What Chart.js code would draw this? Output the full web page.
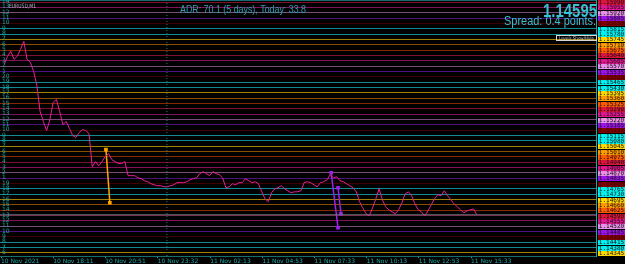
<!DOCTYPE html>
<html>
<head>
<meta charset="utf-8">
<script src="https://cdn.jsdelivr.net/npm/chart.js@4"></script>
<style>
  html, body { margin: 0; padding: 0; background: #000; }
  #chartBox { width: 625px; height: 264px; }
</style>
</head>
<body>
<div id="chartBox"><canvas id="priceChart" width="625" height="264"></canvas></div>
<script>
// Horizontal price levels shown on the right axis (top to bottom)
const levelPrices = [
    1.15990, 1.15955, 1.15920, 1.15885, 1.15850, 1.15815, 1.15780, 1.15745, 1.15710, 1.15675,
    1.15640, 1.15605, 1.15570, 1.15535, 1.15500, 1.15465, 1.15430, 1.15395, 1.15360, 1.15325,
    1.15290, 1.15255, 1.15220, 1.15185, 1.15150, 1.15115, 1.15080, 1.15045, 1.15010, 1.14975,
    1.14940, 1.14905, 1.14870, 1.14835, 1.14800, 1.14765, 1.14730, 1.14695, 1.14660, 1.14625,
    1.14590, 1.14555, 1.14520, 1.14485, 1.14450, 1.14415, 1.14380, 1.14345
];

// small counters printed at the left end of each level
const levelTags = [
    '14', '13', '12', '11', '10', '9', '8', '7', '6', '5', '4', '3', '2', '1',
    '20', '19', '18', '17', '16', '15', '14', '13', '12', '11', '10', '9', '8', '7', '6', '5', '4', '3', '2', '1',
    '19', '18', '17', '16', '15', '14', '13', '12', '11', '10', '9', '8', '7', '6'
];

// time axis (minutes after 10 Nov 15:31)
const timeTicks = [0, 160, 320, 481, 642, 802, 962, 1122, 1282, 1442];
const timeLabels = ['10 Nov 2021', '10 Nov 18:11', '10 Nov 20:51', '10 Nov 23:32', '11 Nov 02:13',
                    '11 Nov 04:53', '11 Nov 07:33', '11 Nov 10:13', '11 Nov 12:53', '11 Nov 15:33'];
const daySeparator = 509;

// EURUSD close, one value every 10 minutes starting at minute 10
const firstBar = 10;
const barStep = 10;
const closePrices = [
    1.15582, 1.15635, 1.15668, 1.15615, 1.15635, 1.15681, 1.15733, 1.15615, 1.15595, 1.15536,
    1.15444, 1.15273, 1.15207, 1.15148, 1.15220, 1.15332, 1.15352, 1.15273, 1.15187, 1.15207,
    1.15161, 1.15115, 1.15102, 1.15135, 1.15154, 1.15148, 1.15128, 1.14911, 1.14944, 1.14917,
    1.14944, 1.14977, 1.14996, 1.14957, 1.14944, 1.14931, 1.14931, 1.14944, 1.14852, 1.14852,
    1.14852, 1.14838, 1.14832, 1.14819, 1.14812, 1.14799, 1.14792, 1.14786, 1.14786, 1.14779,
    1.14779, 1.14786, 1.14792, 1.14806, 1.14806, 1.14806, 1.14812, 1.14825, 1.14832, 1.14838,
    1.14865, 1.14878, 1.14865, 1.14852, 1.14878, 1.14865, 1.14858, 1.14838, 1.14773, 1.14779,
    1.14799, 1.14792, 1.14806, 1.14806, 1.14832, 1.14819, 1.14806, 1.14812, 1.14799, 1.14746,
    1.14700, 1.14681, 1.14740, 1.14766, 1.14773, 1.14786, 1.14766, 1.14753, 1.14740, 1.14746,
    1.14746, 1.14753, 1.14806, 1.14812, 1.14806, 1.14792, 1.14779, 1.14806, 1.14812, 1.14825,
    1.14858, 1.14838, 1.14845, 1.14819, 1.14812, 1.14799, 1.14786, 1.14773, 1.14746, 1.14681,
    1.14641, 1.14602, 1.14589, 1.14641, 1.14700, 1.14766, 1.14694, 1.14648, 1.14628, 1.14615,
    1.14602, 1.14628, 1.14674, 1.14733, 1.14746, 1.14720, 1.14667, 1.14628, 1.14615, 1.14589,
    1.14621, 1.14661, 1.14700, 1.14727, 1.14720, 1.14753, 1.14720, 1.14694, 1.14667, 1.14648,
    1.14628, 1.14608, 1.14621, 1.14628, 1.14634, 1.14595
];

// trade lines (open -> close)
const orangeTimes = [322, 334];
const orangePrices = [1.15023, 1.14674];
const purpleTimes = [1013, 1034];
const purplePrices = [1.14871, 1.14510];
const purple2Times = [1034, 1043];
const purple2Prices = [1.14773, 1.14602];

const bidPrice = 1.14595;
const spreadPoints = 0.4;
const adrValue = 70.1;
const adrDays = 5;
const todayRange = 33.8;

// axis window
const xMin = -3.07, xMax = 1825.5;
const yMin = 1.14325, yMax = 1.16004;

// colours, cycle of 10 starting at the top level
const labelColors = ['#DC143C', '#E0168E', '#E890E8', '#9A12E6', '#800000',
                     '#00F0F0', '#00F0F0', '#FFD700', '#FF9A00', '#FF5A00'];
const lineColors  = ['#7E1030', '#84125A', '#7A4C7A', '#4E1280', '#3E0000',
                     '#128A92', '#128A92', '#9E8400', '#8A4E00', '#862800'];

const closeData = closePrices.map((p, i) => ({ x: firstBar + i * barStep, y: p }));
const pairData = (t, p) => t.map((v, i) => ({ x: v, y: p[i] }));

function fitText(ctx, text, x, y, width) {
    const w = ctx.measureText(text).width;
    ctx.save();
    ctx.translate(x, y);
    ctx.scale(width / w, 1);
    ctx.fillText(text, 0, 0);
    ctx.restore();
}

const overlayPlugin = {
    id: 'mt4Overlay',
    afterDraw(chart) {
        const ctx = chart.ctx;
        const ys = chart.scales.y;
        const area = chart.chartArea;
        ctx.save();

        // frame line along the top
        ctx.fillStyle = '#136A70';
        ctx.fillRect(0, 0, area.right, 1);

        // right axis labels with coloured backgrounds
        ctx.font = '6px "DejaVu Sans Mono"';
        ctx.textAlign = 'center';
        ctx.textBaseline = 'middle';
        levelPrices.forEach((p, i) => {
            const py = Math.round(ys.getPixelForValue(p));
            ctx.fillStyle = labelColors[i % 10];
            ctx.fillRect(area.right + 2, py - 2, chart.width - area.right - 2, 5);
            ctx.fillStyle = i % 10 === 4 ? '#3a0000' : '#101010';
            ctx.fillText(p.toFixed(5), area.right + 15.5, py + 0.5);
        });

        // left tags
        ctx.font = '6px "DejaVu Sans"';
        ctx.textAlign = 'left';
        ctx.fillStyle = '#1FA8A8';
        levelPrices.forEach((p, i) => {
            const py = Math.round(ys.getPixelForValue(p));
            ctx.fillText(levelTags[i], 2, py - 1);
        });

        // symbol caption
        ctx.textBaseline = 'alphabetic';
        ctx.font = '6px "DejaVu Sans"';
        ctx.fillStyle = '#A8B8C8';
        fitText(ctx, 'EURUSD,M1', 9, 8, 27);

        // ADR line
        ctx.font = '10px "Liberation Sans"';
        ctx.fillStyle = '#2AA2B4';
        fitText(ctx, 'ADR: ' + adrValue.toFixed(1) + ' (' + adrDays + ' days), Today: ' + todayRange.toFixed(1),
                180, 13, 126);

        // bid and spread
        ctx.fillStyle = '#3ABFD2';
        ctx.font = 'bold 18px "Liberation Sans"';
        fitText(ctx, bidPrice.toFixed(5), 543, 17, 54);
        ctx.font = '12px "Liberation Sans"';
        fitText(ctx, 'Spread: ' + spreadPoints.toFixed(1) + ' points.', 504, 25, 92);

        // small button box
        ctx.strokeStyle = '#D8D8D8';
        ctx.lineWidth = 1;
        ctx.strokeRect(556.5, 35.5, 40, 5);
        ctx.fillStyle = '#C8C8C8';
        ctx.font = '5px "DejaVu Sans"';
        fitText(ctx, 'Levels Show/Hide', 559, 40, 35);

        ctx.restore();
    }
};

new Chart(document.getElementById('priceChart').getContext('2d'), {
    type: 'line',
    data: {
        datasets: [
            {
                data: [{ x: daySeparator, y: yMin }, { x: daySeparator, y: yMax }],
                borderColor: '#1E8080',
                borderWidth: 1,
                borderDash: [1, 2],
                pointRadius: 0
            },
            {
                data: [{ x: xMin, y: bidPrice }, { x: xMax, y: bidPrice }],
                borderColor: '#6E7B8B',
                borderWidth: 1,
                pointRadius: 0
            },
            {
                data: closeData,
                borderColor: '#E8209A',
                borderWidth: 1,
                pointRadius: 0,
                tension: 0
            },
            {
                data: pairData(orangeTimes, orangePrices),
                borderColor: '#FFA500',
                backgroundColor: '#FFA500',
                borderWidth: 1.5,
                pointRadius: 1.5,
                pointStyle: 'rect'
            },
            {
                data: pairData(purpleTimes, purplePrices),
                borderColor: '#A020F0',
                backgroundColor: '#A020F0',
                borderWidth: 1.5,
                pointRadius: 1.5,
                pointStyle: 'rect'
            },
            {
                data: pairData(purple2Times, purple2Prices),
                borderColor: '#A020F0',
                backgroundColor: '#A020F0',
                borderWidth: 1.5,
                pointRadius: 1.5,
                pointStyle: 'rect'
            }
        ]
    },
    options: {
        responsive: false,
        animation: false,
        devicePixelRatio: 1,
        layout: { padding: 0, autoPadding: false },
        plugins: {
            legend: { display: false },
            tooltip: { enabled: false }
        },
        scales: {
            x: {
                type: 'linear',
                position: 'bottom',
                min: xMin,
                max: xMax,
                afterBuildTicks: s => { s.ticks = timeTicks.map(v => ({ value: v })); },
                afterFit: s => { s.height = 8; },
                ticks: {
                    autoSkip: false,
                    maxRotation: 0,
                    align: 'start',
                    padding: 0,
                    color: '#1FA8A8',
                    font: { family: 'DejaVu Sans', size: 6 },
                    callback: (v, i) => timeLabels[i]
                },
                grid: { drawOnChartArea: false, tickLength: 2, color: '#1FA8A8' },
                border: { color: '#147070' }
            },
            y: {
                type: 'linear',
                position: 'right',
                min: yMin,
                max: yMax,
                afterBuildTicks: s => { s.ticks = levelPrices.map(v => ({ value: v })); },
                afterFit: s => { s.width = 29; },
                ticks: { display: false },
                grid: {
                    color: c => lineColors[c.index % 10],
                    drawTicks: false,
                    lineWidth: 1
                },
                border: { color: '#1FA8A8' }
            }
        }
    },
    plugins: [overlayPlugin]
});
</script>
</body>
</html>
